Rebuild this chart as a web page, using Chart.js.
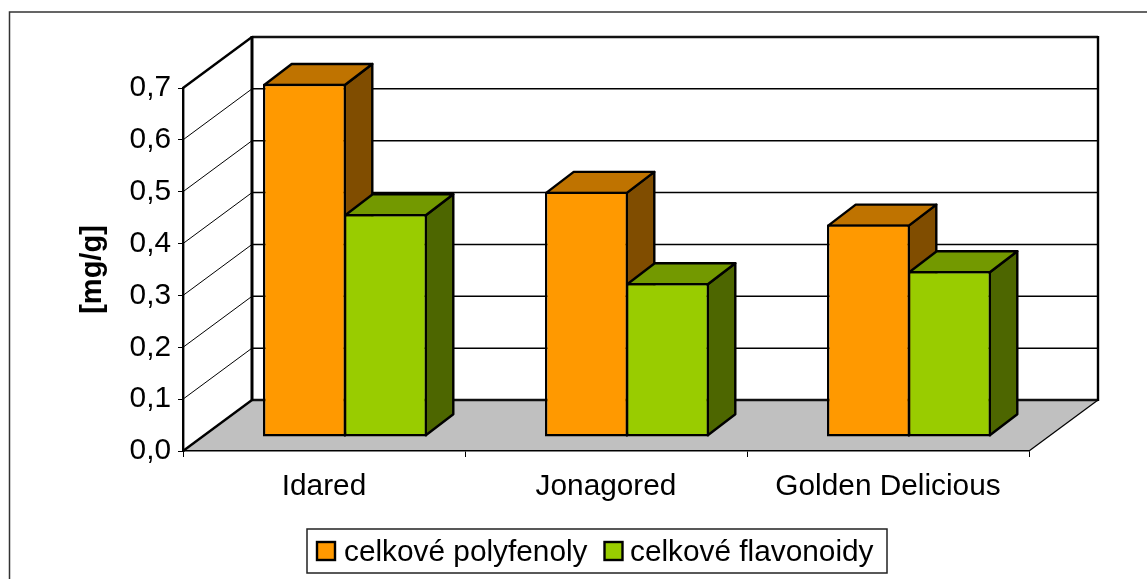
<!DOCTYPE html>
<html><head><meta charset="utf-8">
<style>html,body{margin:0;padding:0;background:#fff}canvas{display:block}</style>
<script src="https://cdn.jsdelivr.net/npm/chart.js@4"></script>
</head><body><canvas id="c" width="1147" height="579"></canvas>
<script>
const categories = ['Idared','Jonagored','Golden Delicious'];
const polyfenoly = [0.681,0.473,0.41];
const flavonoidy = [0.43,0.297,0.32];
const seriesNames = ['celkové polyfenoly','celkové flavonoidy'];
const yTicks = [0,0.1,0.2,0.3,0.4,0.5,0.6,0.7];
const FONT = 'Liberation Sans, Arial, sans-serif';
const WALL = {dx:69, dy:-51};
const BAR_SHIFT = {dx:21, dy:-14};
const BAR_DEPTH = {dx:27.5, dy:-21};
const shades = [{front:'#FF9900',top:'#BF7300',side:'#804D00'},{front:'#99CC00',top:'#739900',side:'#4D6600'}];

function line(ctx,pts,w,color){ctx.beginPath();pts.forEach((p,i)=>i?ctx.lineTo(p[0],p[1]):ctx.moveTo(p[0],p[1]));ctx.lineWidth=w;ctx.strokeStyle=color;ctx.stroke();}
function poly(ctx,pts,fill){ctx.beginPath();pts.forEach((p,i)=>i?ctx.lineTo(p[0],p[1]):ctx.moveTo(p[0],p[1]));ctx.closePath();ctx.fillStyle=fill;ctx.fill();ctx.lineWidth=2.4;ctx.lineJoin='round';ctx.strokeStyle='#000';ctx.stroke();}
function faces(chart,i){
  const ctx=chart.ctx,c=shades[i];
  ctx.save();
  ctx.translate(BAR_SHIFT.dx,BAR_SHIFT.dy);
  chart.getDatasetMeta(i).data.forEach(el=>{
    const p=el.getProps(['x','y','base','width'],true);
    const l=p.x-p.width/2+1.2,r=p.x+p.width/2-1.2,t=p.y+1.2,b=p.base-1.2,dx=BAR_DEPTH.dx,dy=BAR_DEPTH.dy;
    poly(ctx,[[r,b],[r+dx,b+dy],[r+dx,t+dy],[r,t]],c.side);
    poly(ctx,[[l,t],[l+dx,t+dy],[r+dx,t+dy],[r,t]],c.top);
  });
  ctx.restore();
}

const threeD = {
  id:'threeD',
  beforeDraw(chart){
    const {ctx,chartArea:a,scales:{y}} = chart;
    const L=a.left,R=a.right,T=a.top,B=a.bottom,dx=WALL.dx,dy=WALL.dy;
    ctx.save();
    ctx.fillStyle='#fff';ctx.fillRect(0,0,chart.width,chart.height);
    line(ctx,[[9.5,579],[9.5,12],[1147,12]],1.5,'#333');
    ctx.beginPath();ctx.moveTo(L,B);ctx.lineTo(L+dx,B+dy);ctx.lineTo(R+dx,B+dy);ctx.lineTo(R,B);ctx.closePath();ctx.fillStyle='#C0C0C0';ctx.fill();
    yTicks.forEach(v=>{
      const p=y.getPixelForValue(v);
      if(v>0&&v<0.7){
        line(ctx,[[L,p],[L+dx,p+dy]],1,'#000');
        line(ctx,[[L+dx,p+dy],[R+dx,p+dy]],1.5,'#000');
      }
    });
    line(ctx,[[L,T],[L+dx,T+dy]],2.4,'#000');
    line(ctx,[[L,B],[L+dx,B+dy]],2.4,'#000');
    line(ctx,[[R,B],[R+dx,B+dy]],1.2,'#000');
    line(ctx,[[L+dx,T+dy],[R+dx,T+dy]],2.4,'#111');
    line(ctx,[[L+dx,B+dy],[R+dx,B+dy]],2.4,'#111');
    line(ctx,[[L+dx,T+dy-1],[L+dx,B+dy+1]],3,'#000');
    line(ctx,[[R+dx,T+dy-1],[R+dx,B+dy+1]],2.4,'#000');
    ctx.restore();
  },
  beforeDatasetsDraw(chart){faces(chart,0);},
  beforeDatasetDraw(chart,args){
    if(args.index===1)faces(chart,1);
    chart.ctx.save();
    chart.ctx.translate(BAR_SHIFT.dx,BAR_SHIFT.dy);
  },
  afterDatasetDraw(chart){chart.ctx.restore();},
  afterDraw(chart){
    const ctx=chart.ctx;
    ctx.save();
    ctx.fillStyle='#fff';ctx.fillRect(307,529,580,44);
    ctx.lineWidth=1.5;ctx.strokeStyle='#222';ctx.strokeRect(307,529,580,44);
    ctx.font='29.8px '+FONT;ctx.textBaseline='alphabetic';ctx.textAlign='left';
    [[317,344],[604.5,630]].forEach((pos,i)=>{
      ctx.fillStyle=chart.data.datasets[i].backgroundColor;
      ctx.fillRect(pos[0],542,18,18);
      ctx.lineWidth=2.4;ctx.strokeStyle='#000';ctx.strokeRect(pos[0],542,18,18);
      ctx.fillStyle='#000';ctx.fillText(chart.data.datasets[i].label,pos[1],561);
    });
    ctx.restore();
  }
};

new Chart(document.getElementById('c'),{
  type:'bar',
  data:{labels:categories,datasets:[
    {label:seriesNames[0],data:polyfenoly,backgroundColor:shades[0].front,borderColor:'#000',borderWidth:2.4,borderSkipped:false,clip:false,categoryPercentage:162/282,barPercentage:83/81},
    {label:seriesNames[1],data:flavonoidy,backgroundColor:shades[1].front,borderColor:'#000',borderWidth:2.4,borderSkipped:false,clip:false,categoryPercentage:162/282,barPercentage:83/81}
  ]},
  options:{
    responsive:false,animation:false,devicePixelRatio:1,
    layout:{padding:{left:73,right:118,top:88,bottom:40}},
    plugins:{legend:{display:false},tooltip:{enabled:false},title:{display:false}},
    scales:{
      x:{
        offset:true,
        afterFit(s){s.height=88;},
        grid:{drawOnChartArea:false,offset:true,tickLength:6,color:'#000',lineWidth:1},
        border:{color:'#000',width:1.5},
        ticks:{color:'#000',font:{family:FONT,size:29.8},padding:12,maxRotation:0}
      },
      y:{
        min:0,max:0.7,
        afterFit(s){s.width=110;},
        afterBuildTicks(s){s.ticks=yTicks.map(v=>({value:v}));},
        grid:{drawOnChartArea:false,tickLength:5,color:'#000',lineWidth:1},
        border:{color:'#000',width:2.4},
        ticks:{color:'#000',font:{family:FONT,size:29.8},padding:7,callback:v=>v.toFixed(1).replace('.',',')},
        title:{display:true,text:'[mg/g]',color:'#000',font:{family:FONT,size:29,weight:'bold'},padding:{top:3,bottom:0}}
      }
    }
  },
  plugins:[threeD]
});
</script></body></html>
